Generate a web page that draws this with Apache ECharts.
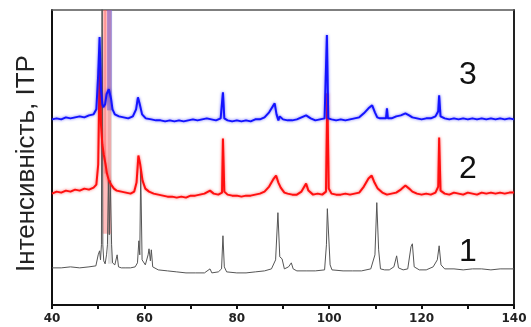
<!DOCTYPE html>
<html>
<head>
<meta charset="utf-8">
<script src="https://cdn.jsdelivr.net/npm/echarts@6/dist/echarts.min.js"></script>
<style>
  html, body { margin: 0; padding: 0; background: #fff; }
  #chart { width: 531px; height: 327px; }
</style>
</head>
<body>
<div id="chart"></div>
<script>
// 2θ range and ticks
const xMin = 40
const xMax = 140
const xStep = 10
const yTop = 294

// sample 1 (gray, bottom): [2θ, intensity]
const sample1 = [
  [40, 37], [42, 37], [44, 38], [46, 37], [48, 38], [49.5, 39], [50.0, 50], [50.3, 54],
  [50.5, 45], [50.7, 60], [50.85, 400], [51.0, 60], [51.2, 44], [51.5, 41], [51.8, 50],
  [52.0, 60], [52.2, 124], [52.4, 70], [52.6, 124], [52.9, 60], [53.1, 42], [53.6, 40],
  [54.1, 50], [54.4, 38], [55, 37], [56, 37], [57, 37], [58, 38], [58.5, 42], [58.8, 64],
  [59.0, 50], [59.2, 134], [59.5, 45], [60.2, 40], [60.8, 50], [61.0, 56], [61.3, 44],
  [61.5, 55], [61.8, 38], [63, 35], [65, 34], [67, 33], [69, 32], [71, 32], [73, 32],
  [74.2, 36], [74.6, 32], [76, 33], [76.7, 36], [77.0, 69], [77.3, 38], [77.8, 33], [80, 32],
  [82, 32], [84, 33], [86, 34], [87.5, 36], [88.4, 45], [88.9, 92], [89.3, 48], [89.8, 46],
  [90.3, 36], [91.2, 38], [91.8, 42], [92.2, 36], [93, 34], [95, 34], [97, 34], [99, 35],
  [99.4, 60], [99.6, 96], [99.9, 96], [100.2, 40], [100.6, 35], [103, 34], [105, 34],
  [107, 34], [109, 36], [109.9, 50], [110.3, 102], [110.7, 55], [111.1, 36], [112, 35],
  [113, 35], [114, 38], [114.6, 49], [115, 37], [116, 35], [117, 36], [117.7, 58], [118, 61],
  [118.4, 38], [119.5, 35], [121, 35], [122.5, 38], [123.4, 45], [123.8, 59], [124.2, 40],
  [125, 36], [127, 36], [129, 35], [131, 36], [133, 36], [135, 35], [137, 36], [140, 36]
]

// sample 2 (red, middle)
const sample2 = [
  [40, 111], [41, 113], [42, 112], [43, 114], [44, 113], [45, 115], [46, 114], [47, 116],
  [48, 115], [49, 117], [49.6, 120], [50.0, 140], [50.3, 236], [50.6, 180], [50.9, 160],
  [51.2, 150], [51.6, 140], [51.9, 131], [52.3, 124], [52.8, 120], [53.4, 116], [54, 114],
  [55, 113], [56, 112], [57, 111], [57.8, 113], [58.3, 122], [58.7, 149], [59.1, 140],
  [59.6, 124], [60.2, 116], [61, 113], [62, 111], [63, 110], [64, 109], [65, 108], [66, 108],
  [67, 107], [68, 108], [69, 107], [70, 109], [71, 109], [72, 110], [73, 111], [74.2, 114],
  [75, 111], [76, 110], [76.8, 112], [77.0, 166], [77.3, 113], [78, 110], [79, 109], [80, 109],
  [81, 108], [82, 109], [83, 109], [84, 110], [85, 111], [86, 113], [87, 118], [88, 126],
  [88.5, 129], [89, 122], [89.5, 117], [90.3, 112], [91, 111], [92, 110], [93, 110], [94, 113],
  [95, 121], [95.5, 114], [96.5, 110], [97.5, 111], [98.5, 110], [99.3, 113], [99.6, 211],
  [99.9, 116], [100.5, 111], [101.5, 110], [102.5, 110], [103.5, 111], [104.5, 110],
  [105.5, 111], [106.5, 112], [107.5, 118], [108.5, 126], [109.2, 129], [109.8, 122],
  [110.5, 116], [111.5, 112], [112.5, 110], [113.5, 111], [114.5, 112], [115.5, 115],
  [116.5, 119], [117.3, 116], [118, 113], [119, 111], [120, 110], [121, 111], [122, 110],
  [123, 112], [123.6, 118], [123.8, 167], [124.1, 114], [125, 111], [126, 110], [127, 112],
  [128, 111], [129, 110], [130, 112], [131, 111], [132, 110], [133, 112], [134, 111],
  [135, 112], [136, 111], [137, 112], [138, 111], [139, 112], [140, 112]
]

// sample 3 (blue, top)
const sample3 = [
  [40, 185], [41, 186], [42, 185], [43, 187], [44, 186], [45, 187], [46, 188], [47, 187],
  [48, 189], [49, 190], [49.6, 195], [50.0, 230], [50.3, 267], [50.6, 215], [50.9, 200],
  [51.1, 197], [51.5, 200], [51.8, 210], [52.3, 215], [52.8, 205], [53.1, 195], [53.6, 190],
  [54.5, 188], [55.5, 187], [56.5, 186], [57.5, 188], [58.2, 195], [58.6, 207], [59.0, 200],
  [59.5, 190], [60.3, 186], [61.5, 185], [62.5, 184], [63.5, 184], [64.5, 183], [65.5, 184],
  [66.5, 183], [67.5, 184], [68.5, 183], [69.5, 184], [70.5, 185], [71.5, 184], [72.5, 185],
  [73.5, 186], [74.5, 185], [75.5, 184], [76.5, 186], [77.0, 212], [77.3, 186], [78, 184],
  [79, 183], [80, 184], [81, 183], [82, 184], [83, 183], [84, 185], [85, 185], [86, 187],
  [87, 192], [87.8, 198], [88.2, 201], [88.6, 190], [89, 184], [89.3, 188], [90, 185],
  [91, 184], [92, 184], [93, 185], [94, 187], [95, 189], [96, 186], [97, 184], [98, 185],
  [99, 186], [99.5, 269], [99.8, 186], [100.5, 185], [101.5, 184], [102.5, 185], [103.5, 184],
  [104.5, 185], [105.5, 186], [106.5, 187], [107.5, 191], [108.5, 196], [109.3, 199],
  [109.9, 192], [110.4, 187], [111, 186], [112.3, 186], [112.5, 196], [112.7, 186],
  [113.5, 186], [114.5, 188], [115.5, 189], [116.5, 191], [117.3, 189], [118, 187], [119, 186],
  [120, 185], [121, 186], [122, 186], [123, 188], [123.6, 193], [123.8, 209], [124.1, 188],
  [125, 186], [126, 185], [127, 186], [128, 185], [129, 186], [130, 185], [131, 186],
  [132, 185], [133, 186], [134, 185], [135, 186], [136, 185], [137, 186], [138, 185],
  [139, 186], [140, 185]
]

// off-scale reflections near 51-53 deg: [from 2θ, to 2θ, from intensity]
const bands1 = [[52.1, 53.0, 41]]
const bands2 = [[51.0, 52.8, 71], [51.3, 51.7, 131]]
const bands3 = [[51.9, 53.0, 194]]

// curve numbers
const traceNames = ['1', '2', '3']
const nameX = [130, 130, 130]
const nameY = [53, 135, 229]

const chart = echarts.init(document.getElementById('chart'), null, { renderer: 'canvas' })

const mkBand = (bands, color) => ({
  silent: true,
  itemStyle: { color },
  data: bands.map((b) => [{ xAxis: b[0], yAxis: b[2] }, { xAxis: b[1], yAxis: yTop }])
})

const mkLabel = (i) => ({
  symbol: 'circle',
  symbolSize: 1,
  itemStyle: { color: 'transparent' },
  label: {
    show: true,
    position: 'inside',
    formatter: traceNames[i],
    fontFamily: 'Liberation Sans',
    fontSize: 32,
    color: '#111'
  },
  data: [{ coord: [nameX[i], nameY[i]] }]
})

const option = {
  animation: false,
  backgroundColor: '#fff',
  grid: { left: 52, right: 17, top: 10, bottom: 22 },
  xAxis: [
    {
      type: 'value',
      min: xMin,
      max: xMax,
      interval: xStep,
      axisLine: { onZero: false, lineStyle: { color: '#111', width: 2 } },
      axisTick: { show: true, length: 4, inside: false, lineStyle: { color: '#111', width: 2 } },
      axisLabel: {
        margin: 8,
        fontFamily: 'DejaVu Sans',
        fontWeight: 'bold',
        fontSize: 12,
        color: '#222',
        formatter: (v) => (v % 20 === 0 ? String(v) : '')
      },
      splitLine: { show: false }
    },
    {
      type: 'value',
      position: 'top',
      min: xMin,
      max: xMax,
      axisLine: { show: true, onZero: false, lineStyle: { color: '#555', width: 1.5 } },
      axisTick: { show: false },
      axisLabel: { show: false },
      splitLine: { show: false }
    }
  ],
  yAxis: [
    {
      type: 'value',
      min: 0,
      max: yTop,
      name: 'Інтенсивність, ІТР',
      nameLocation: 'middle',
      nameGap: 12,
      nameTextStyle: {
        fontFamily: 'Liberation Sans',
        fontSize: 26,
        color: '#222',
        padding: [0, 12, 0, 0]
      },
      axisLine: { show: true, onZero: false, lineStyle: { color: '#111', width: 2 } },
      axisTick: { show: false },
      axisLabel: { show: false },
      splitLine: { show: false }
    },
    {
      type: 'value',
      position: 'right',
      min: 0,
      max: yTop,
      axisLine: { show: true, onZero: false, lineStyle: { color: '#222', width: 2 } },
      axisTick: { show: false },
      axisLabel: { show: false },
      splitLine: { show: false }
    }
  ],
  series: [
    {
      name: '1',
      type: 'line',
      data: sample1,
      showSymbol: false,
      lineStyle: { color: '#555', width: 1 },
      markArea: mkBand(bands1, 'rgba(170,170,170,0.35)'),
      markPoint: mkLabel(0)
    },
    {
      name: '2',
      type: 'line',
      data: sample2,
      showSymbol: false,
      lineStyle: {
        color: '#ff1010',
        width: 2,
        shadowColor: 'rgba(255,0,0,0.6)',
        shadowBlur: 3
      },
      markArea: mkBand(bands2, 'rgba(255,90,90,0.4)'),
      markPoint: mkLabel(1)
    },
    {
      name: '3',
      type: 'line',
      data: sample3,
      showSymbol: false,
      lineStyle: {
        color: '#1414ff',
        width: 2,
        shadowColor: 'rgba(0,0,255,0.6)',
        shadowBlur: 3
      },
      markArea: mkBand(bands3, 'rgba(100,80,220,0.45)'),
      markPoint: mkLabel(2)
    }
  ]
}

chart.setOption(option)
</script>
</body>
</html>
